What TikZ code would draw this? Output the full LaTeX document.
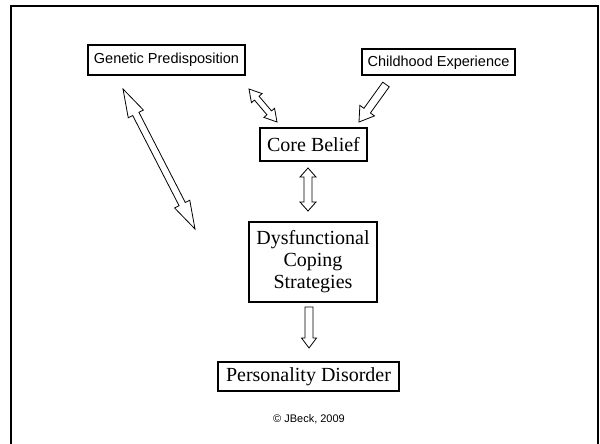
\documentclass[tikz,border=0pt]{standalone}
\usepackage{fontspec}
\setmainfont{Liberation Serif}
\setsansfont{Liberation Sans}
\usetikzlibrary{calc}

% hollow block arrows: #1 tail, #2 tip, #3 half shaft, #4 half head, #5 head length
\newcommand{\singleblock}[5]{%
  \draw[blockarrow] ($(#1)!#3!90:(#2)$) -- ($(#2)!#5!(#1)!#3!-90:(#1)$) -- ($(#2)!#5!(#1)!#4!-90:(#1)$) -- (#2)
    -- ($(#2)!#5!(#1)!#4!90:(#1)$) -- ($(#2)!#5!(#1)!#3!90:(#1)$) -- ($(#1)!#3!-90:(#2)$) -- cycle;}
\newcommand{\doubleblock}[5]{%
  \draw[blockarrow] (#2) -- ($(#2)!#5!(#1)!#4!90:(#1)$) -- ($(#2)!#5!(#1)!#3!90:(#1)$) -- ($(#1)!#5!(#2)!#3!-90:(#2)$)
    -- ($(#1)!#5!(#2)!#4!-90:(#2)$) -- (#1) -- ($(#1)!#5!(#2)!#4!90:(#2)$) -- ($(#1)!#5!(#2)!#3!90:(#2)$)
    -- ($(#2)!#5!(#1)!#3!-90:(#1)$) -- ($(#2)!#5!(#1)!#4!-90:(#1)$) -- cycle;}

\begin{document}
\begin{tikzpicture}[x=1pt, y=-1pt,
    sansbox/.style={rectangle, draw=black, line width=2pt, fill=white, inner sep=2pt, font=\sffamily\fontsize{14.5}{17}\selectfont},
    serifbox/.style={rectangle, draw=black, line width=2pt, fill=white, inner sep=2pt, align=center, font=\fontsize{20}{22}\selectfont},
    blockarrow/.style={draw=black, line width=0.8pt, fill=white, line join=miter}
]
    \useasboundingbox (0,0) rectangle (600,444);
    \clip (0,0) rectangle (600,444);
    \draw[line width=2pt] (11,6) rectangle (598,460);

    \node[sansbox, minimum width=157pt, minimum height=30pt] (gen) at (166.5,60) {Genetic Predisposition};
    \node[sansbox, minimum width=153pt, minimum height=26pt] (child) at (438.5,62.5) {Childhood Experience};
    \node[serifbox, minimum width=107pt, minimum height=33pt] (core) at (313.5,144.5) {Core Belief};
    \node[serifbox, minimum width=128pt, minimum height=80pt] (dys) at (313,262) {Dysfunctional\\Coping\\Strategies};
    \node[serifbox, minimum width=181pt, minimum height=29pt] (pd) at (308.5,376.5) {Personality Disorder};
    \node[font=\sffamily\fontsize{11}{13}\selectfont] (copy) at (309,419) {© JBeck, 2009};

    \coordinate (gena) at ($(gen.south east)+(3,13)$);
    \coordinate (corea) at ($(core.north west)+(18,-5)$);
    \coordinate (childa) at ($(child.south west)+(25,8)$);
    \coordinate (coreb) at ($(core.north east)+(-9,-5)$);
    \coordinate (corec) at ($(core.south)+(-5.5,6)$);
    \coordinate (dysa) at ($(dys.north)+(-5,-10)$);
    \coordinate (genb) at ($(gen.south west)+(36,13)$);
    \coordinate (genend) at (195,229);
    \coordinate (dysb) at ($(dys.south)+(-4,4)$);
    \coordinate (pda) at ($(pd.north)+(0.5,-13)$);

    \doubleblock{gena}{corea}{3pt}{7pt}{12pt}
    \singleblock{childa}{coreb}{4pt}{9pt}{14pt}
    \doubleblock{corec}{dysa}{4pt}{8pt}{9pt}
    \doubleblock{genb}{genend}{3.5pt}{8.5pt}{28pt}
    \singleblock{dysb}{pda}{4pt}{7.5pt}{10pt}
\end{tikzpicture}
\end{document}
